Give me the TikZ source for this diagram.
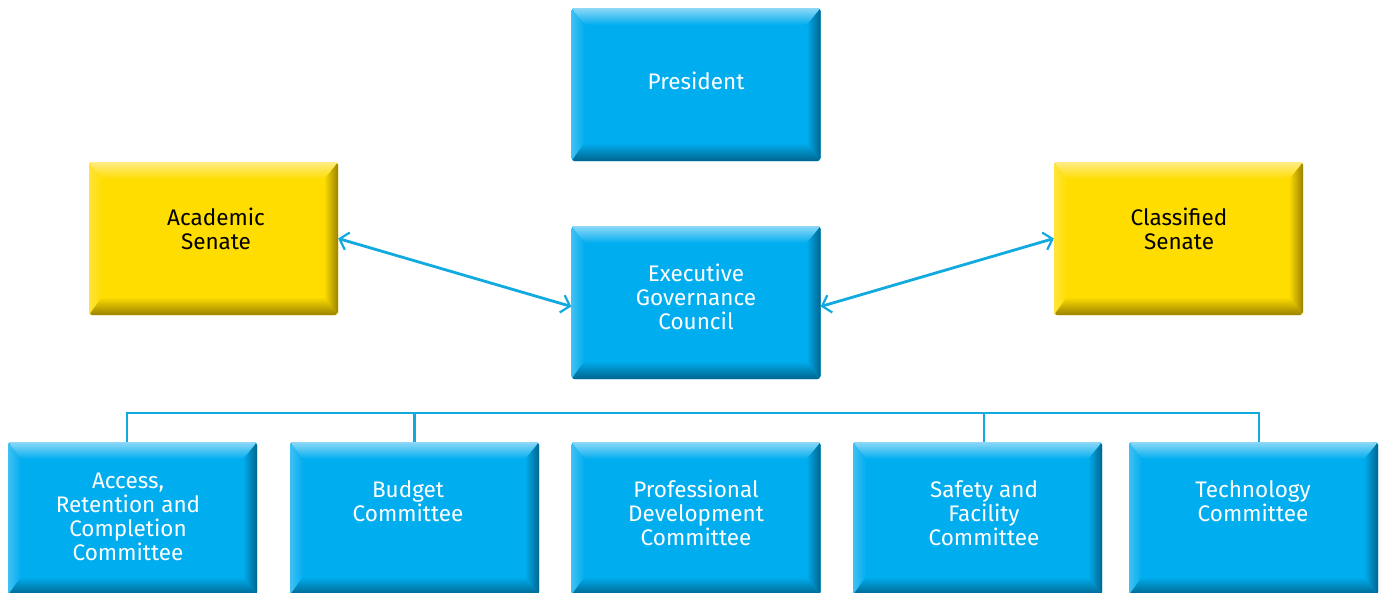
\documentclass[tikz,border=0pt]{standalone}
\usepackage{fontspec}
\setmainfont{Fira Sans}
\usetikzlibrary{arrows.meta}

\definecolor{boxblue}{HTML}{00ADEF}
\definecolor{bluelight}{HTML}{8ED8F8}
\definecolor{bluedark}{HTML}{00658E}
\definecolor{boxyellow}{HTML}{FFDD00}
\definecolor{yellowlight}{HTML}{FFEC85}
\definecolor{yellowdark}{HTML}{9A8200}
\definecolor{linkblue}{HTML}{11AADF}

\tikzset{
  bevel/.style n args={3}{
    rectangle, rounded corners=3pt, inner sep=0pt,
    minimum width=249pt, minimum height=153pt, fill=#1,
    path picture={
      \coordinate (nw) at (path picture bounding box.north west);
      \coordinate (ne) at (path picture bounding box.north east);
      \coordinate (sw) at (path picture bounding box.south west);
      \coordinate (se) at (path picture bounding box.south east);
      \shade[left color=#1!55!#2, right color=#1] (nw) -- (sw) -- ([xshift=13pt,yshift=18pt]sw) -- ([xshift=13pt,yshift=-17pt]nw) -- cycle;
      \shade[left color=#1, right color=#3] (ne) -- (se) -- ([xshift=-14pt,yshift=18pt]se) -- ([xshift=-14pt,yshift=-17pt]ne) -- cycle;
      \shade[top color=#2, bottom color=#1] (nw) -- (ne) -- ([xshift=-14pt,yshift=-17pt]ne) -- ([xshift=13pt,yshift=-17pt]nw) -- cycle;
      \shade[top color=#1, bottom color=#3] ([xshift=13pt,yshift=18pt]sw) -- ([xshift=-14pt,yshift=18pt]se) -- (se) -- (sw) -- cycle;
    }},
  bluebox/.style={bevel={boxblue}{bluelight}{bluedark}},
  yellowbox/.style={bevel={boxyellow}{yellowlight}{yellowdark}},
  boxtext/.style={align=center, font=\fontsize{22.5}{24}\selectfont, text=white},
  senatetext/.style={boxtext, text=black},
  link/.style={draw=linkblue, line width=2.8pt},
  twoway/.style={link, {Straight Barb[length=8pt,width=18pt,line width=2.2pt]}-{Straight Barb[length=8pt,width=18pt,line width=2.2pt]}}
}

\begin{document}
\begin{tikzpicture}[x=1pt, y=-1pt]
  \useasboundingbox (0,0) rectangle (1380,592);

  % top part
  \node[bluebox] (pres) at (696,84.5) {};
  \node[boxtext] at (696,81) {President};

  \node[yellowbox] (acad) at (213.5,238.5) {};
  \node[senatetext] at (216,229) {Academic\\Senate};

  \node[bluebox] (egc) at (696,302.5) {};
  \node[boxtext] at (696,297) {Executive\\Governance\\Council};

  \node[yellowbox] (class) at (1178.5,238.5) {};
  \node[senatetext] at (1179,229) {Classified\\Senate};

  \draw[twoway] (acad.east) -- ([yshift=-4pt]egc.west);
  \draw[twoway] ([yshift=-4pt]egc.east) -- (class.west);

  % committees
  \node[bluebox] (arc) at (132.5,518.5) {};
  \node[boxtext] at (128,517) {Access,\\Retention and\\Completion\\Committee};

  \node[bluebox] (budget) at (414.5,518.5) {};
  \node[boxtext] at (408,501) {Budget\\Committee};

  \node[bluebox] (profdev) at (696,518.5) {};
  \node[boxtext] at (696,513) {Professional\\Development\\Committee};

  \node[bluebox] (safety) at (977.5,518.5) {};
  \node[boxtext] at (984,513) {Safety and\\Facility\\Committee};

  \node[bluebox] (tech) at (1253.5,518.5) {};
  \node[boxtext] at (1253,501) {Technology\\Committee};

  \coordinate (bus-l) at (127,413);
  \coordinate (bus-r) at (1259,413);
  \draw[link] ([xshift=-5.5pt]arc.north) -- (bus-l) -- (bus-r) -- ([xshift=5.5pt]tech.north);
  \draw[link] (budget.north) -- (budget.north |- bus-l);
  \draw[link] ([xshift=6.5pt]safety.north) -- ([xshift=6.5pt]safety.north |- bus-l);
\end{tikzpicture}
\end{document}
